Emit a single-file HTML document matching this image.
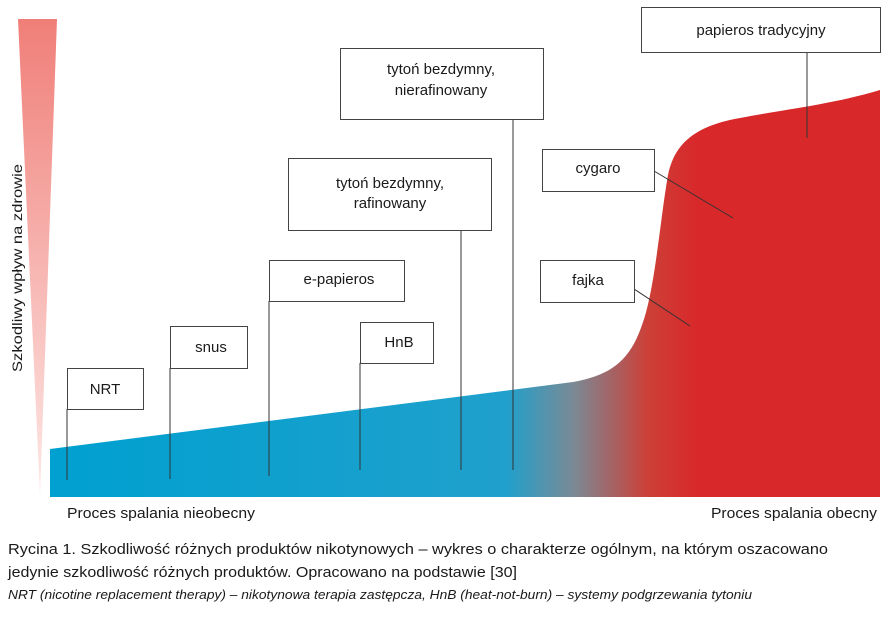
<!DOCTYPE html>
<html><head><meta charset="utf-8"><style>
html,body{margin:0;padding:0;background:#fff;}
svg{display:block;}
text{font-family:"Liberation Sans",sans-serif;fill:#1a1a1a;}
</style></head><body>
<svg width="892" height="626" viewBox="0 0 892 626" xmlns="http://www.w3.org/2000/svg">
<defs>
<linearGradient id="tri" x1="0" y1="0" x2="0" y2="1">
<stop offset="0" stop-color="#f07e78"/><stop offset="1" stop-color="#fde8e6"/>
</linearGradient>
<linearGradient id="fill" x1="50" y1="0" x2="880" y2="0" gradientUnits="userSpaceOnUse">
<stop offset="0" stop-color="#00a0d0"/>
<stop offset="0.55" stop-color="#20a0cc"/>
<stop offset="0.63" stop-color="#7a8a96"/>
<stop offset="0.72" stop-color="#cc4038"/>
<stop offset="0.78" stop-color="#d9282a"/>
<stop offset="1" stop-color="#d9282a"/>
</linearGradient>
</defs>
<polygon points="18,19 57,19 40,495" fill="url(#tri)"/>
<text transform="translate(22,372) rotate(-90)" font-size="14" textLength="208" lengthAdjust="spacingAndGlyphs">Szkodliwy wpływ na zdrowie</text>
<path d="M50,449 L573,382 C612,375 630,360 642,325 C655,290 660,220 668,175 C675,140 700,125 740,118 C780,110 830,105 880,90 L880,497 L50,497 Z" fill="url(#fill)"/>
<g stroke="#333" stroke-width="1" fill="none">
<line x1="67" y1="409" x2="67" y2="480"/>
<line x1="170" y1="368" x2="170" y2="479"/>
<line x1="269" y1="301" x2="269" y2="476"/>
<line x1="360" y1="363" x2="360" y2="470"/>
<line x1="461" y1="231" x2="461" y2="470"/>
<line x1="513" y1="119" x2="513" y2="470"/>
<line x1="654" y1="171" x2="733" y2="218"/>
<line x1="634" y1="289" x2="690" y2="326"/>
<line x1="807" y1="52" x2="807" y2="138"/>
</g>
<g fill="#fff" stroke="#444" stroke-width="1">
<rect x="67.5" y="368.5" width="76" height="41"/>
<rect x="170.5" y="326.5" width="77" height="42"/>
<rect x="269.5" y="260.5" width="135" height="41"/>
<rect x="360.5" y="322.5" width="73" height="41"/>
<rect x="288.5" y="158.5" width="203" height="72"/>
<rect x="340.5" y="48.5" width="203" height="71"/>
<rect x="542.5" y="149.5" width="112" height="42"/>
<rect x="540.5" y="260.5" width="94" height="42"/>
<rect x="641.5" y="7.5" width="239" height="45"/>
</g>
<g font-size="15" text-anchor="middle">
<text x="105" y="394">NRT</text>
<text x="211" y="352">snus</text>
<text x="339" y="284">e-papieros</text>
<text x="399" y="347">HnB</text>
<text x="390" y="188">tytoń bezdymny,</text>
<text x="390" y="208">rafinowany</text>
<text x="441" y="74">tytoń bezdymny,</text>
<text x="441" y="95">nierafinowany</text>
<text x="598" y="173">cygaro</text>
<text x="588" y="285">fajka</text>
<text x="761" y="35">papieros tradycyjny</text>
</g>
<text x="67" y="518" font-size="15" textLength="188" lengthAdjust="spacingAndGlyphs">Proces spalania nieobecny</text>
<text x="711" y="518" font-size="15" textLength="166" lengthAdjust="spacingAndGlyphs">Proces spalania obecny</text>
<text x="8" y="554" font-size="15" textLength="820" lengthAdjust="spacingAndGlyphs">Rycina 1. Szkodliwość różnych produktów nikotynowych – wykres o charakterze ogólnym, na którym oszacowano</text>
<text x="8" y="577" font-size="15" textLength="509" lengthAdjust="spacingAndGlyphs">jedynie szkodliwość różnych produktów. Opracowano na podstawie [30]</text>
<text x="8" y="599" font-size="13" font-style="italic" textLength="744" lengthAdjust="spacingAndGlyphs">NRT (nicotine replacement therapy) – nikotynowa terapia zastępcza, HnB (heat-not-burn) – systemy podgrzewania tytoniu</text>
</svg>
</body></html>
